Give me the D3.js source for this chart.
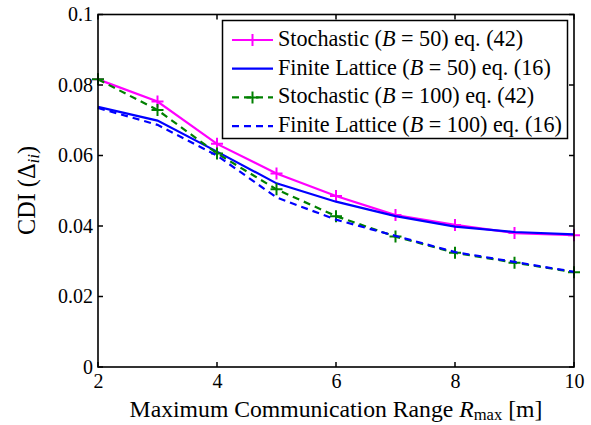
<!DOCTYPE html>
<html><head><meta charset="utf-8">
<script src="https://cdn.jsdelivr.net/npm/d3@7"></script>
<style>body{margin:0;background:#fff}svg{display:block}</style>
</head><body><svg id="c" width="591" height="425" font-family="'Liberation Serif','Tinos','Times New Roman','DejaVu Serif','Noto Serif',serif"></svg>
<script>
const xValues = [2,3,4,5,6,7,8,9,10];
const stoch50 = [0.0816,0.0753,0.0633,0.0549,0.0485,0.0431,0.0403,0.0380,0.0374];
const lattice50 = [0.0738,0.0699,0.0611,0.0521,0.0469,0.0428,0.0398,0.0383,0.0376];
const stoch100 = [0.0816,0.0729,0.0606,0.0504,0.0428,0.0370,0.0324,0.0296,0.0269];
const lattice100 = [0.0735,0.0687,0.0600,0.0481,0.0418,0.0372,0.0326,0.0298,0.0270];
const xTicks = [2,4,6,8,10];
const yTicks = [0,0.02,0.04,0.06,0.08,0.1];
const yTickLabels = ["0","0.02","0.04","0.06","0.08","0.1"];
const seriesNames = ["Stochastic","Finite Lattice","Stochastic","Finite Lattice"];
const seriesB = ["50","50","100","100"];
const seriesEq = ["(42)","(16)","(42)","(16)"];

const FONT = "'Liberation Serif','Tinos','Times New Roman','DejaVu Serif','Noto Serif',serif";
const series = [
  {vals: stoch50, color:"#ff00ff", dash:null, marker:true},
  {vals: lattice50, color:"#0000ff", dash:null, marker:false},
  {vals: stoch100, color:"#008000", dash:"7,5", marker:true},
  {vals: lattice100, color:"#0000ff", dash:"7,5", marker:false}
];

const svg = d3.select("#c");
const L=98, R=574, T=14.5, B=367;
const x = d3.scaleLinear().domain([2,10]).range([L,R]);
const y = d3.scaleLinear().domain([0,0.1]).range([B,T]);

function fit(sel, target){
  const w = sel.node().getComputedTextLength();
  const fs = parseFloat(sel.attr("font-size"));
  if(w>0) sel.attr("font-size", fs*target/w);
}

const g = svg.append("g");
const line = d3.line().x((d,i)=>x(xValues[i])).y(d=>y(d));

series.forEach(s=>{
  g.append("path").attr("d",line(s.vals)).attr("fill","none").attr("stroke",s.color)
   .attr("stroke-width",2.2).attr("stroke-dasharray",s.dash);
  if(s.marker){
    const m=6;
    s.vals.forEach((v,i)=>{
      const cx=x(xValues[i]), cy=y(v);
      g.append("path").attr("d",`M${cx-m},${cy}H${cx+m}M${cx},${cy-m}V${cy+m}`)
       .attr("stroke",s.color).attr("stroke-width",2);
    });
  }
});

// axes
const axB = d3.axisBottom(x).tickValues(xTicks).tickSize(0).tickPadding(0).tickFormat(d3.format("d"));
const axL = d3.axisLeft(y).tickValues(yTicks).tickSize(0).tickPadding(5).tickFormat((d,i)=>yTickLabels[i]);
const gb = svg.append("g").attr("transform",`translate(0,${B})`).call(axB);
const gl = svg.append("g").attr("transform",`translate(${L},0)`).call(axL);
[gb,gl].forEach(a=>{a.attr("font-family",FONT); a.select(".domain").remove(); a.selectAll("text").attr("font-size",20).attr("fill","#000");});
gb.selectAll("text").attr("y",21).attr("dy",null);

const tl=5;
xTicks.forEach(t=>{
  svg.append("line").attr("x1",x(t)).attr("x2",x(t)).attr("y1",B).attr("y2",B-tl).attr("stroke","#000").attr("stroke-width",1.5);
  svg.append("line").attr("x1",x(t)).attr("x2",x(t)).attr("y1",T).attr("y2",T+tl).attr("stroke","#000").attr("stroke-width",1.5);
});
yTicks.forEach(t=>{
  svg.append("line").attr("x1",L).attr("x2",L+tl).attr("y1",y(t)).attr("y2",y(t)).attr("stroke","#000").attr("stroke-width",1.5);
  svg.append("line").attr("x1",R).attr("x2",R-tl).attr("y1",y(t)).attr("y2",y(t)).attr("stroke","#000").attr("stroke-width",1.5);
});
svg.append("rect").attr("x",L).attr("y",T).attr("width",R-L).attr("height",B-T)
  .attr("fill","none").attr("stroke","#000").attr("stroke-width",1.6);

// axis titles
const xt = svg.append("text").attr("x",(L+R)/2).attr("y",417).attr("text-anchor","middle").attr("font-size",20);
xt.append("tspan").text("Maximum Communication Range ");
xt.append("tspan").attr("font-style","italic").text("R");
xt.append("tspan").attr("font-size","0.7em").attr("dy",3).text("max");
xt.append("tspan").attr("dy",-3).text(" [m]");
fit(xt, 413);

const yt = svg.append("text").attr("transform",`translate(35,190.5) rotate(-90)`).attr("text-anchor","middle").attr("font-size",20);
yt.append("tspan").text("CDI (Δ");
yt.append("tspan").attr("font-style","italic").attr("font-size","0.7em").attr("dy",4).text("ii");
yt.append("tspan").attr("dy",-4).text(")");
fit(yt, 89);

// legend
const lg = svg.append("g");
lg.append("rect").attr("x",222.5).attr("y",20.5).attr("width",345).attr("height",118)
  .attr("fill","#fff").attr("stroke","#000").attr("stroke-width",1.5);
const texts=[];
series.forEach((s,i)=>{
  const yy = 40 + i*28.7;
  lg.append("line").attr("x1",232).attr("x2",273).attr("y1",yy).attr("y2",yy)
    .attr("stroke",s.color).attr("stroke-width",2.2).attr("stroke-dasharray",s.dash ? "7,5" : null);
  if(s.marker){
    lg.append("path").attr("d",`M246.5,${yy}H258.5M252.5,${yy-6}V${yy+6}`).attr("stroke",s.color).attr("stroke-width",2);
  }
  const t = lg.append("text").attr("x",278).attr("y",yy+6).attr("font-size",20);
  t.append("tspan").text(seriesNames[i]+" (");
  t.append("tspan").attr("font-style","italic").text("B");
  t.append("tspan").text(" = "+seriesB[i]+") eq. "+seriesEq[i]);
  texts.push(t);
});
const w3 = texts[3].node().getComputedTextLength();
const fsL = 20*284/w3;
texts.forEach(t=>t.attr("font-size",fsL));
</script></body></html>
